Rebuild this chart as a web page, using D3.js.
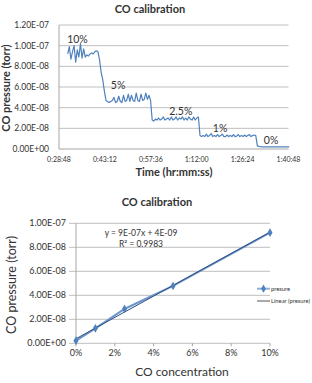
<!DOCTYPE html>
<html>
<head>
<meta charset="utf-8">
<script src="https://cdn.jsdelivr.net/npm/d3@7"></script>
<style>
  body { margin: 0; background: #fff; }
  text { font-family: Lato, "Open Sans", sans-serif; fill: #333; }
</style>
</head>
<body>
<div id="chart"></div>
<script>
// top chart: pressure log, one sample every 30 s starting at 0:31:32
const startSec = 1892;
const stepSec = 30;
// pressure in units of 1e-8 torr
const pressure = [
  9.2, 9.9, 8.7, 9.4, 10.0, 8.4, 9.6, 8.9, 10.2, 8.8, 9.7, 8.9,
  9.1, 9.0, 9.2, 9.3, 9.2, 9.4, 9.5, 9.4,
  8.6, 7.4, 6.7, 5.6, 4.7,
  4.6, 4.5, 4.6, 4.7, 5.0, 4.5, 4.6, 5.1, 4.6, 4.5, 5.2, 4.6, 4.7, 5.3, 4.6,
  5.2, 4.7, 4.6, 5.4, 4.7, 4.6, 5.3, 4.7, 4.8, 5.4, 4.8, 5.2, 4.7,
  2.8,
  2.7, 2.9, 2.8, 3.0, 2.8, 2.9, 3.1, 2.8, 2.9, 3.0, 2.8, 3.1, 2.8, 2.9, 3.1,
  2.8, 3.0, 2.9, 3.1, 2.8, 3.0, 2.8, 3.1, 2.9, 2.8, 3.1, 2.8, 3.0, 3.1,
  1.3,
  1.2, 1.3, 1.2, 1.45, 1.2, 1.3, 1.5, 1.2, 1.3, 1.2, 1.4, 1.2, 1.3, 1.45, 1.2,
  1.2, 1.35, 1.2, 1.3, 1.2, 1.4, 1.2, 1.25, 1.4, 1.2, 1.3, 1.2, 1.35, 1.2, 1.3,
  1.4, 1.2, 1.3, 1.35, 1.3,
  0.3,
  0.25, 0.22, 0.2, 0.22, 0.2, 0.21, 0.2, 0.22, 0.2, 0.2,
  0.21, 0.2, 0.2, 0.22, 0.2, 0.2, 0.21, 0.2, 0.2, 0.2
];
const timeTicks = [1728, 2592, 3456, 4320, 5184, 6048];
const pressureTicks = [0, 2e-8, 4e-8, 6e-8, 8e-8, 1e-7, 1.2e-7];
const stepLabels = ["10%", "5%", "2.5%", "1%", "0%"];
const stepLabelAt = [[2076, 10.3e-8], [2840, 5.8e-8], [4020, 3.3e-8], [4760, 1.62e-8], [5720, 0.45e-8]];

// bottom chart: calibration points
const concentration = [0, 0.01, 0.025, 0.05, 0.10];
const meanPressure = [2.2e-9, 1.25e-8, 2.86e-8, 4.78e-8, 9.22e-8];
const concTicks = [0, 0.02, 0.04, 0.06, 0.08, 0.10];
const calTicks = [0, 2e-8, 4e-8, 6e-8, 8e-8, 1e-7];
const fitText = ["y = 9E-07x + 4E-09", "R² = 0.9983"];
const legendNames = ["presure", "Linear (presure)"];

const width = 312, height = 383;
const blue = "#4f81bd";
const gridColor = "#bfbfbf";

const expFmt = v => {
  const [m, e] = v.toExponential(2).split("e");
  const n = Math.abs(+e);
  return m + "E" + (+e < 0 ? "-" : "+") + (n < 10 ? "0" : "") + n;
};
const hms = s => {
  const h = Math.floor(s / 3600), m = Math.floor(s % 3600 / 60), sec = s % 60;
  return h + ":" + String(m).padStart(2, "0") + ":" + String(sec).padStart(2, "0");
};

const svg = d3.select("#chart").append("svg")
    .attr("width", width)
    .attr("height", height);

// ---------- top chart ----------
const x1 = d3.scaleLinear().domain([1728, 6048]).range([59, 288.5]);
const y1 = d3.scaleLinear().domain([0, 1.2e-7]).range([149, 25]);

const g1 = svg.append("g");

g1.append("g")
  .selectAll("line")
  .data(pressureTicks.slice(1))
  .join("line")
    .attr("x1", x1.range()[0]).attr("x2", x1.range()[1])
    .attr("y1", d => y1(d)).attr("y2", d => y1(d))
    .attr("stroke", gridColor).attr("stroke-width", 1);

g1.append("line")
    .attr("x1", x1.range()[0]).attr("x2", x1.range()[0])
    .attr("y1", y1.range()[0]).attr("y2", y1.range()[1])
    .attr("stroke", "#a6a6a6");
g1.append("line")
    .attr("x1", x1.range()[0]).attr("x2", x1.range()[1])
    .attr("y1", y1(0)).attr("y2", y1(0))
    .attr("stroke", "#a6a6a6");

g1.append("g")
  .selectAll("text")
  .data(pressureTicks)
  .join("text")
    .attr("x", 49)
    .attr("y", d => y1(d))
    .attr("dy", "0.35em")
    .attr("text-anchor", "end")
    .style("font-size", "8.5px")
    .text(expFmt);

g1.append("g")
  .selectAll("text")
  .data(timeTicks)
  .join("text")
    .attr("x", d => x1(d))
    .attr("y", 162)
    .attr("text-anchor", "middle")
    .style("font-size", "7px")
    .text(hms);

const series = pressure.map((p, i) => [startSec + i * stepSec, p * 1e-8]);
g1.append("path")
    .datum(series)
    .attr("fill", "none")
    .attr("stroke", blue)
    .attr("stroke-width", 1.2)
    .attr("stroke-linejoin", "round")
    .attr("d", d3.line().x(d => x1(d[0])).y(d => y1(d[1])));

g1.append("g")
  .selectAll("text")
  .data(stepLabels)
  .join("text")
    .attr("x", (d, i) => x1(stepLabelAt[i][0]))
    .attr("y", (d, i) => y1(stepLabelAt[i][1]))
    .attr("text-anchor", "middle")
    .style("font-size", "10.5px")
    .text(d => d);

g1.append("text")
    .attr("x", 150).attr("y", 13)
    .attr("text-anchor", "middle")
    .style("font-size", "11px").style("font-weight", "bold")
    .text("CO calibration");

g1.append("text")
    .attr("transform", "translate(10,88) rotate(-90)")
    .attr("text-anchor", "middle")
    .style("font-size", "11px").style("font-weight", "bold")
    .text("CO pressure (torr)");

g1.append("text")
    .attr("x", 174).attr("y", 176)
    .attr("text-anchor", "middle")
    .style("font-size", "11px").style("font-weight", "bold")
    .text("Time (hr:mm:ss)");

// ---------- bottom chart ----------
const x2 = d3.scaleLinear().domain([0, 0.1]).range([76, 270]);
const y2 = d3.scaleLinear().domain([0, 1e-7]).range([343.3, 223.3]);

const g2 = svg.append("g");

g2.append("g")
  .selectAll("line")
  .data(calTicks)
  .join("line")
    .attr("x1", 69).attr("x2", x2.range()[1])
    .attr("y1", d => y2(d)).attr("y2", d => y2(d))
    .attr("stroke", gridColor);

g2.append("line")
    .attr("x1", x2(0)).attr("x2", x2(0))
    .attr("y1", y2.range()[0]).attr("y2", y2.range()[1])
    .attr("stroke", "#a6a6a6");

g2.append("g")
  .selectAll("line")
  .data(concTicks)
  .join("line")
    .attr("x1", d => x2(d)).attr("x2", d => x2(d))
    .attr("y1", y2(0)).attr("y2", y2(0) + 3)
    .attr("stroke", "#a6a6a6");

g2.append("g")
  .selectAll("text")
  .data(calTicks)
  .join("text")
    .attr("x", 66)
    .attr("y", d => y2(d))
    .attr("dy", "0.35em")
    .attr("text-anchor", "end")
    .style("font-size", "9px")
    .text(expFmt);

g2.append("g")
  .selectAll("text")
  .data(concTicks)
  .join("text")
    .attr("x", d => x2(d))
    .attr("y", 356)
    .attr("text-anchor", "middle")
    .style("font-size", "9px")
    .text(d3.format(".0%"));

// least squares trendline
const mx = d3.mean(concentration), my = d3.mean(meanPressure);
const slope = d3.sum(concentration, (c, i) => (c - mx) * (meanPressure[i] - my)) /
              d3.sum(concentration, c => (c - mx) ** 2);
const icpt = my - slope * mx;
const fitLine = [0, 0.1].map(c => [c, icpt + slope * c]);

const pts = concentration.map((c, i) => [c, meanPressure[i]]);
const line2 = d3.line().x(d => x2(d[0])).y(d => y2(d[1]));

g2.append("path")
    .datum(pts)
    .attr("fill", "none")
    .attr("stroke", "#6b95cc")
    .attr("stroke-width", 2)
    .attr("d", line2);

g2.append("path")
    .datum(fitLine)
    .attr("fill", "none")
    .attr("stroke", "#2f4f7f")
    .attr("stroke-width", 1)
    .attr("d", line2);

g2.append("g")
  .selectAll("path")
  .data(pts)
  .join("path")
    .attr("transform", d => `translate(${x2(d[0])},${y2(d[1])})`)
    .attr("d", d3.symbol(d3.symbolDiamond, 22))
    .attr("fill", blue);

g2.append("g")
  .selectAll("text")
  .data(fitText)
  .join("text")
    .attr("x", 141)
    .attr("y", (d, i) => 236 + i * 11)
    .attr("text-anchor", "middle")
    .style("font-size", "8.5px")
    .text(d => d);

// legend
const leg = g2.append("g");
leg.append("line")
    .attr("x1", 257).attr("x2", 270).attr("y1", 288.7).attr("y2", 288.7)
    .attr("stroke", "#8fb0dc").attr("stroke-width", 2);
leg.append("path")
    .attr("transform", "translate(263.5,288.7)")
    .attr("d", d3.symbol(d3.symbolDiamond, 20))
    .attr("fill", blue);
leg.append("line")
    .attr("x1", 257).attr("x2", 270).attr("y1", 301).attr("y2", 301)
    .attr("stroke", "#555").attr("stroke-width", 1);
leg.selectAll("text")
  .data(legendNames)
  .join("text")
    .attr("x", 271)
    .attr("y", (d, i) => 288.7 + i * 12.3)
    .attr("dy", "0.35em")
    .style("font-size", "5.8px")
    .text(d => d);

g2.append("text")
    .attr("x", 157).attr("y", 206)
    .attr("text-anchor", "middle")
    .style("font-size", "11px").style("font-weight", "bold")
    .text("CO calibration");

g2.append("text")
    .attr("transform", "translate(16,285) rotate(-90)")
    .attr("text-anchor", "middle")
    .style("font-size", "12.5px")
    .text("CO pressure (torr)");

g2.append("text")
    .attr("x", 182).attr("y", 376)
    .attr("text-anchor", "middle")
    .style("font-size", "12px")
    .text("CO concentration");
</script>
</body>
</html>
